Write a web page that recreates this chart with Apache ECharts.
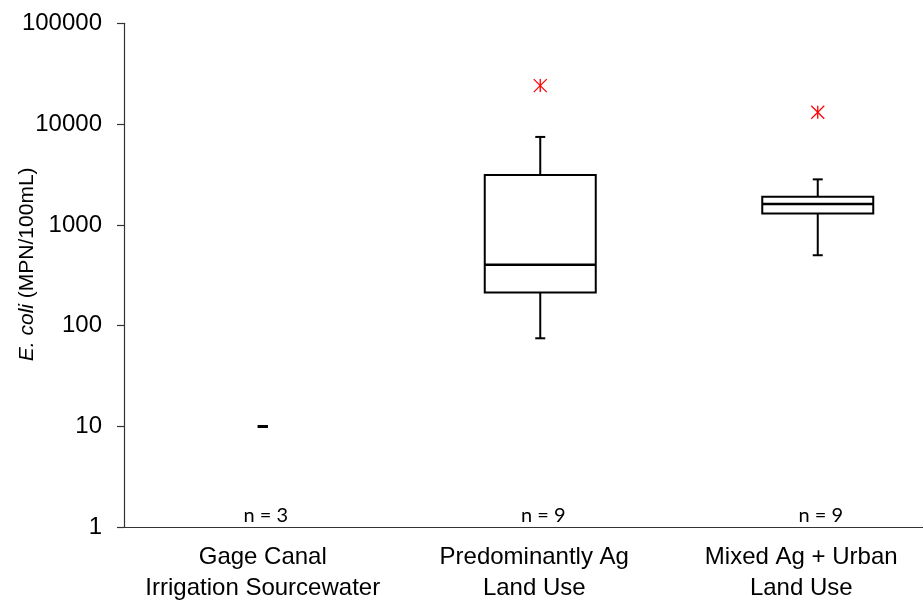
<!DOCTYPE html>
<html><head><meta charset="utf-8">
<script src="https://cdn.jsdelivr.net/npm/echarts@6/dist/echarts.min.js"></script>
<style>html,body{margin:0;padding:0;background:#fff}#c{width:923px;height:603px}</style>
</head><body><div id="c"></div>
<script>
const categories = ['Gage Canal\nIrrigation Sourcewater', 'Predominantly Ag\nLand Use', 'Mixed Ag + Urban\nLand Use'];
const whiskerLow  = [10, 75, 500];
const quartile1   = [10, 213, 1300];
const medians     = [10, 402, 1610];
const quartile3   = [10, 3130, 1900];
const whiskerHigh = [10, 7460, 2830];
const outlierCategory = [1, 2];
const outlierValues = [24100, 13100];
const sampleCounts = ['n = 3', 'n = 9', 'n = 9'];
const yTickValues = [1, 10, 100, 1000, 10000, 100000];

const labelRightPad = [0, 12, 33];
const boxData = categories.map((c, i) => [i, whiskerLow[i], quartile1[i], medians[i], quartile3[i], whiskerHigh[i]]);
const outData = outlierCategory.map((c, i) => [c, outlierValues[i]]);
const nData = sampleCounts.map((s, i) => [i, yTickValues[0], s]);
const catData = categories.map((c, i) => ({value: c, textStyle: {padding: [0, labelRightPad[i], 0, 0]}}));

const chart = echarts.init(document.getElementById('c'), null, {renderer: 'canvas'});
chart.setOption({
  animation: false,
  backgroundColor: '#fff',
  grid: {left: 124, top: 23.3, width: 832.5, bottom: 75.7, containLabel: false, outerBoundsMode: 'none'},
  xAxis: {
    type: 'category', data: catData, boundaryGap: true,
    axisLine: {lineStyle: {color: '#333', width: 1.2}},
    axisTick: {length: 8, lineStyle: {color: '#333', width: 1.2}},
    axisLabel: {color: '#000', fontFamily: 'Liberation Sans', fontSize: 24, lineHeight: 31, margin: 15, interval: 0}
  },
  yAxis: {
    type: 'log', logBase: 10, min: 1, max: 100000,
    name: '{i|E. coli} (MPN/100mL)', nameLocation: 'middle', nameRotate: 90, nameGap: 86,
    nameMoveOverlap: false,
    nameTextStyle: {color: '#000', fontFamily: 'Liberation Sans', fontSize: 21,
      rich: {i: {fontStyle: 'italic', fontFamily: 'Liberation Sans', fontSize: 21, color: '#000'}},
      padding: [0, 0, 0, 22]},
    axisLine: {show: true, lineStyle: {color: '#333', width: 1.2}},
    axisTick: {show: true, length: 7, lineStyle: {color: '#333', width: 1.2}},
    minorTick: {show: false},
    splitLine: {show: false},
    axisLabel: {color: '#000', fontFamily: 'Liberation Sans', fontSize: 24, margin: 22,
      formatter: v => String(Math.round(v))}
  },
  series: [
    {
      type: 'custom', data: boxData, clip: false,
      encode: {x: 0, y: [1, 2, 3, 4, 5]},
      renderItem: function (params, api) {
        const i = api.value(0);
        const bw = api.size([1, 0])[0] * 0.4;
        const cap = 10;
        const pLow = api.coord([i, api.value(1)]);
        const pQ1 = api.coord([i, api.value(2)]);
        const pMed = api.coord([i, api.value(3)]);
        const pQ3 = api.coord([i, api.value(4)]);
        const pHigh = api.coord([i, api.value(5)]);
        const x = pMed[0];
        const ls = {stroke: '#000', lineWidth: 2};
        const ch = [];
        ch.push({type: 'line', shape: {x1: x, y1: pQ1[1], x2: x, y2: pLow[1]}, style: ls});
        ch.push({type: 'line', shape: {x1: x, y1: pQ3[1], x2: x, y2: pHigh[1]}, style: ls});
        ch.push({type: 'line', shape: {x1: x - cap / 2, y1: pLow[1], x2: x + cap / 2, y2: pLow[1]}, style: {stroke: '#000', lineWidth: api.value(1) === api.value(5) ? 3 : 2}});
        ch.push({type: 'line', shape: {x1: x - cap / 2, y1: pHigh[1], x2: x + cap / 2, y2: pHigh[1]}, style: {stroke: '#000', lineWidth: api.value(1) === api.value(5) ? 3 : 2}});
        if (api.value(4) > api.value(2)) {
          ch.push({type: 'rect', shape: {x: x - bw / 2, y: pQ3[1], width: bw, height: pQ1[1] - pQ3[1]}, style: {fill: '#fff', stroke: '#000', lineWidth: 2}});
          ch.push({type: 'line', shape: {x1: x - bw / 2, y1: pMed[1], x2: x + bw / 2, y2: pMed[1]}, style: {stroke: '#000', lineWidth: 2.6}});
        }
        return {type: 'group', children: ch};
      }
    },
    {
      type: 'custom', data: outData, clip: false,
      encode: {x: 0, y: 1},
      renderItem: function (params, api) {
        const p = api.coord([api.value(0), api.value(1)]);
        const r = 6.5;
        const st = {stroke: '#ff0000', lineWidth: 1.3};
        return {type: 'group', children: [
          {type: 'line', shape: {x1: p[0], y1: p[1] - r, x2: p[0], y2: p[1] + r}, style: st},
          {type: 'line', shape: {x1: p[0] - r, y1: p[1] - r, x2: p[0] + r, y2: p[1] + r}, style: st},
          {type: 'line', shape: {x1: p[0] - r, y1: p[1] + r, x2: p[0] + r, y2: p[1] - r}, style: st}
        ]};
      }
    },
    {
      type: 'custom', data: nData, clip: false,
      encode: {x: 0, y: 1},
      renderItem: function (params, api) {
        const p = api.coord([api.value(0), api.value(1)]);
        return {type: 'text', x: p[0] + 3, y: p[1] - 2, style: {
          text: sampleCounts[params.dataIndex], fill: '#000', fontFamily: 'Lato', fontSize: 20,
          align: 'center', verticalAlign: 'bottom'}};
      }
    }
  ]
});
</script></body></html>
